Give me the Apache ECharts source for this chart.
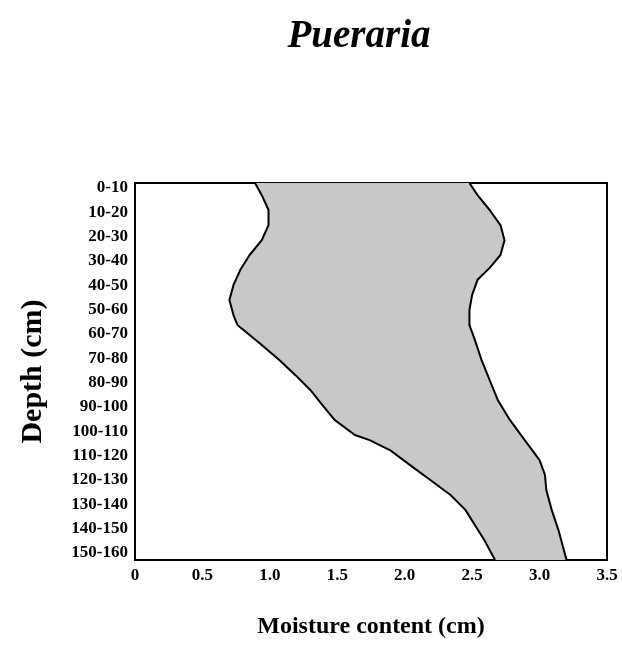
<!DOCTYPE html>
<html>
<head>
<meta charset="utf-8">
<title>Pueraria</title>
<script src="https://cdn.jsdelivr.net/npm/echarts@6/dist/echarts.min.js"></script>
<style>
  html, body { margin: 0; padding: 0; background: #fff; }
  #main { width: 622px; height: 647px; }
</style>
</head>
<body>
<div id="main"></div>
<script>
// depth classes (tick labels) and the depth at the middle of each class
var depthLabels = ['0-10', '10-20', '20-30', '30-40', '40-50', '50-60', '60-70', '70-80',
  '80-90', '90-100', '100-110', '110-120', '120-130', '130-140', '140-150', '150-160'];
var depthMids = [5, 15, 25, 35, 45, 55, 65, 75, 85, 95, 105, 115, 125, 135, 145, 155];

// left curve (lowest moisture)
var lowDepth = [2.9, 7.9, 14, 20.2, 26.4, 32.5, 38.7, 44.9, 51, 57.2, 61.3, 65.4, 69.5, 75.7,
  81.9, 88, 94.2, 100.3, 106.5, 108.6, 112.7, 118.9, 125, 131.2, 137.3, 143.5, 149.7, 157.9];
var lowMoist = [0.89, 0.94, 0.99, 0.99, 0.94, 0.85, 0.78, 0.73, 0.70, 0.73, 0.76, 0.85, 0.94, 1.07,
  1.19, 1.30, 1.39, 1.48, 1.63, 1.74, 1.89, 2.04, 2.19, 2.34, 2.45, 2.52, 2.59, 2.67];

// right curve (highest moisture)
var highDepth = [2.9, 7.9, 14, 20.2, 26.4, 32.5, 37.8, 42.7, 48.9, 55.1, 61.3, 67.4, 75.7,
  83.9, 92.1, 100.3, 108.6, 116.8, 122.9, 129.1, 137.3, 145.6, 151.7, 157.9];
var highMoist = [2.48, 2.54, 2.63, 2.71, 2.74, 2.71, 2.63, 2.54, 2.50, 2.48, 2.48, 2.52, 2.57,
  2.63, 2.69, 2.78, 2.89, 3.00, 3.04, 3.05, 3.09, 3.14, 3.17, 3.20];

function pairs(xs, ys) {
  var out = [];
  for (var i = 0; i < xs.length; i++) out.push([xs[i], ys[i]]);
  return out;
}

var lowData = pairs(lowMoist, lowDepth);
var highData = pairs(highMoist, highDepth);

var chart = echarts.init(document.getElementById('main'));
var serif = '"Liberation Serif", "DejaVu Serif", serif';

option = {
  animation: false,
  backgroundColor: '#fff',
  title: {
    text: 'Pueraria',
    left: 354,
    top: 12,
    textAlign: 'center',
    textStyle: {
      fontFamily: serif,
      fontStyle: 'italic',
      fontWeight: 'bold',
      fontSize: 39,
      color: '#000'
    }
  },
  grid: {
    left: 135,
    right: 15,
    top: 183,
    bottom: 87,
    show: true,
    borderColor: '#000',
    borderWidth: 2,
    backgroundColor: 'transparent'
  },
  xAxis: {
    type: 'value',
    min: 0,
    max: 3.5,
    interval: 0.5,
    name: 'Moisture content (cm)',
    nameLocation: 'middle',
    nameGap: 55,
    nameTextStyle: { fontFamily: serif, fontWeight: 'bold', fontSize: 24, color: '#000' },
    axisLine: { show: true, lineStyle: { color: '#000', width: 2 } },
    axisTick: { show: false },
    splitLine: { show: false },
    axisLabel: {
      margin: 7,
      fontFamily: serif,
      fontWeight: 'bold',
      fontSize: 17,
      color: '#000',
      formatter: function (v) { return v === 0 ? '0' : v.toFixed(1); }
    }
  },
  yAxis: {
    type: 'value',
    inverse: true,
    min: 2.9,
    max: 157.9,
    name: 'Depth (cm)',
    nameLocation: 'middle',
    nameGap: 87,
    nameRotate: 90,
    nameTextStyle: { fontFamily: serif, fontWeight: 'bold', fontSize: 30, color: '#000' },
    axisLine: { show: true, lineStyle: { color: '#000', width: 2 } },
    axisTick: { show: false },
    splitLine: { show: false },
    axisLabel: {
      customValues: depthMids,
      margin: 7,
      fontFamily: serif,
      fontWeight: 'bold',
      fontSize: 17,
      color: '#000',
      formatter: function (v) {
        var i = depthMids.indexOf(Math.round(v));
        return i >= 0 ? depthLabels[i] : '';
      }
    }
  },
  series: [
    {
      // shaded band between the two curves
      type: 'custom',
      silent: true,
      z: 1,
      data: [0],
      renderItem: function (params, api) {
        var pts = [];
        for (var i = 0; i < lowData.length; i++) pts.push(api.coord(lowData[i]));
        for (var j = highData.length - 1; j >= 0; j--) pts.push(api.coord(highData[j]));
        return {
          type: 'polygon',
          shape: { points: pts },
          style: { fill: '#c8c8c8', stroke: null }
        };
      }
    },
    {
      name: 'low',
      type: 'line',
      data: lowData,
      showSymbol: false,
      z: 3,
      lineStyle: { color: '#000', width: 2 }
    },
    {
      name: 'high',
      type: 'line',
      data: highData,
      showSymbol: false,
      z: 3,
      lineStyle: { color: '#000', width: 2 }
    }
  ]
};

chart.setOption(option);
window.addEventListener('resize', function () {
  chart.resize();
});
</script>
</body>
</html>
